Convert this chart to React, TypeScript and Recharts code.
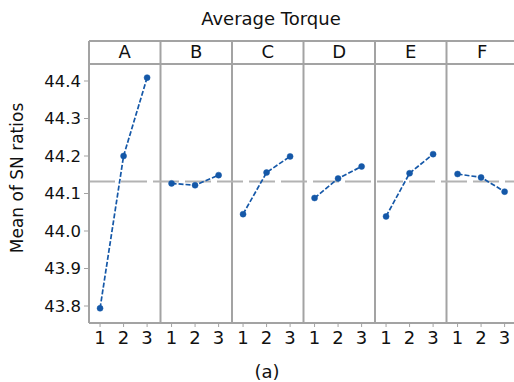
import React from 'react';
import {
  LineChart, Line, XAxis, YAxis, ReferenceLine, ReferenceArea,
} from 'recharts';

const LEVELS = [1, 2, 3];
const FACTORS = ['A', 'B', 'C', 'D', 'E', 'F'];
const A_MEANS = [43.794, 44.2, 44.409];
const B_MEANS = [44.127, 44.122, 44.149];
const C_MEANS = [44.045, 44.156, 44.199];
const D_MEANS = [44.088, 44.14, 44.172];
const E_MEANS = [44.039, 44.154, 44.205];
const F_MEANS = [44.152, 44.143, 44.105];
const GRAND_MEAN = 44.132;
const Y_TICKS = [43.8, 43.9, 44.0, 44.1, 44.2, 44.3, 44.4];

const MEANS = [A_MEANS, B_MEANS, C_MEANS, D_MEANS, E_MEANS, F_MEANS];

// panel geometry in x units (one unit = distance between levels)
const PANEL_W = 3.04;
const PANEL_START = 0.53;
const X_DOMAIN = [PANEL_START, PANEL_START + PANEL_W * FACTORS.length];
const Y_TOP = 44.5067;
const HEADER_BOTTOM = 44.4453;
const Y_DOMAIN = [43.7547, Y_TOP];

const FONT = '"DejaVu Sans", sans-serif';
const TEXT = '#111';
const FRAME = '#a3a3a3';
const BLUE = '#1558a8';

const panelSeries = FACTORS.map((f, k) => ({
  factor: f,
  data: LEVELS.map((lv, i) => ({ x: k * PANEL_W + lv, y: MEANS[k][i] })),
}));

const xTicks: number[] = [];
const xTickLabels: string[] = [];
FACTORS.forEach((_, k) => {
  LEVELS.forEach((lv) => {
    xTicks.push(k * PANEL_W + lv);
    xTickLabels.push(String(lv));
  });
});

const renderYLabel = () => (
  <text
    x={17}
    y={178}
    transform="rotate(-90, 17, 178)"
    textAnchor="middle"
    dominantBaseline="central"
    fontSize={17}
    fill={TEXT}
    fontFamily={FONT}
  >
    Mean of SN ratios
  </text>
);

export default function App() {
  return (
    <div style={{ position: 'fixed', left: 0, top: 0, width: 514, height: 382, overflow: 'hidden', background: '#fff', fontFamily: FONT }}>
      <div style={{ position: 'absolute', left: 151, top: 10, width: 240, textAlign: 'center', fontSize: 18, lineHeight: '18px', color: TEXT }}>
        Average Torque
      </div>
      <LineChart
        width={530}
        height={382}
        margin={{ top: 41, right: 12, left: 29, bottom: 29 }}
      >
        <XAxis
          type="number"
          dataKey="x"
          domain={X_DOMAIN}
          ticks={xTicks}
          interval={0}
          allowDataOverflow
          height={30}
          tickFormatter={(_v: number, i: number) => xTickLabels[i]}
          tick={{ fontSize: 18, fill: TEXT, fontFamily: FONT }}
          tickSize={4}
          tickMargin={4}
          axisLine={{ stroke: FRAME, strokeWidth: 2 }}
          tickLine={{ stroke: FRAME }}
        />
        <YAxis
          type="number"
          domain={Y_DOMAIN}
          ticks={Y_TICKS}
          allowDataOverflow
          width={60}
          tickFormatter={(v: number) => v.toFixed(1)}
          tick={{ fontSize: 16.5, fill: TEXT, fontFamily: FONT }}
          tickSize={5}
          tickMargin={3}
          axisLine={{ stroke: FRAME, strokeWidth: 2 }}
          tickLine={{ stroke: FRAME }}
          label={{ value: 'Mean of SN ratios', content: renderYLabel }}
        />
        <ReferenceLine y={Y_TOP} stroke={FRAME} strokeWidth={2} />
        <ReferenceLine y={HEADER_BOTTOM} stroke={FRAME} strokeWidth={2} />
        {FACTORS.slice(1).map((f, i) => (
          <ReferenceLine key={`div-${f}`} x={PANEL_START + (i + 1) * PANEL_W} stroke={FRAME} strokeWidth={2} />
        ))}
        {FACTORS.map((f, k) => (
          <ReferenceArea
            key={`hdr-${f}`}
            x1={PANEL_START + k * PANEL_W}
            x2={PANEL_START + (k + 1) * PANEL_W}
            y1={HEADER_BOTTOM}
            y2={Y_TOP}
            fill="none"
            fillOpacity={0}
            stroke="none"
            label={{ value: f, position: 'center', fontSize: 18, fill: TEXT, fontFamily: FONT, dy: -1 }}
          />
        ))}
        <ReferenceLine y={GRAND_MEAN} stroke="#b3b3b3" strokeWidth={2} strokeDasharray="26 6" />
        {panelSeries.map((s) => (
          <Line
            key={s.factor}
            data={s.data}
            dataKey="y"
            type="linear"
            stroke={BLUE}
            strokeWidth={1.7}
            strokeDasharray="5 2"
            dot={{ r: 3, fill: BLUE, stroke: BLUE, strokeWidth: 0.5, strokeDasharray: '' }}
            isAnimationActive={false}
          />
        ))}
      </LineChart>
      <div style={{ position: 'absolute', left: 217, top: 363, width: 100, textAlign: 'center', fontSize: 18, lineHeight: '18px', color: TEXT }}>
        (a)
      </div>
    </div>
  );
}
